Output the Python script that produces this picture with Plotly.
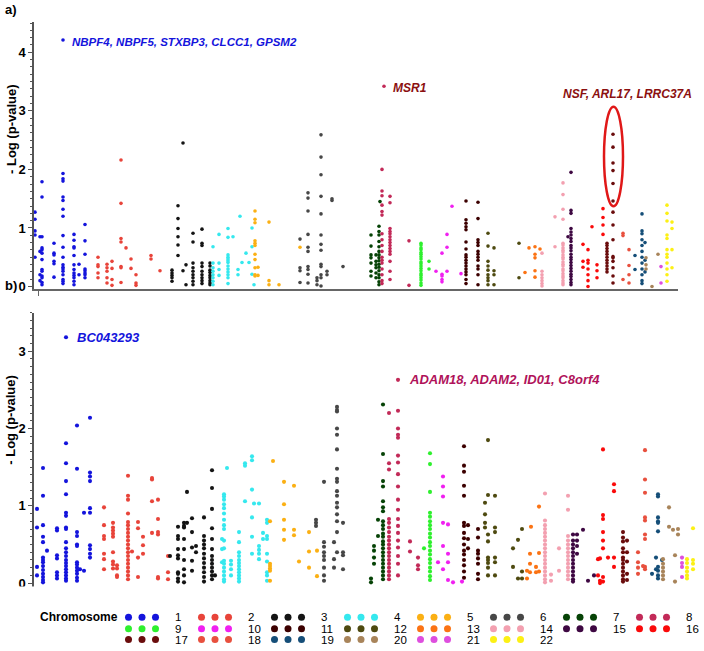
import plotly.graph_objects as go

W, H = 704, 651
FONT = "Liberation Sans, Arial, sans-serif"

CHROMS = list(range(1, 23))
COLORS = {
    1: "#1414dc", 2: "#e8443a", 3: "#141414", 4: "#35e8ee", 5: "#fbb014",
    6: "#474747", 7: "#064306", 8: "#c22a58", 9: "#2ef02e", 10: "#f020f0",
    11: "#3c0000", 12: "#4e4a10", 13: "#fb7314", 14: "#f3a0b0", 15: "#3e0842",
    16: "#fa0a0a", 17: "#6a0c0c", 18: "#e8503e", 19: "#154e78", 20: "#a8845a",
    21: "#de4ede", 22: "#fcf014",
}

# ---------------- panel a) : (position, [-log p values]) per chromosome ----------------
panel_a = {
    1: [(1, [1.27, 1.15, 0.95, 0.88, 0.50]),
        (6, [0.85, 0.60, 0.20, 0.10]),
        (8, [1.79, 1.53, 0.85, 0.66, 0.63, 0.57, 0.46, 0.29, 0.26, 0.18, 0.15, 0.07, 0.03]),
        (20, [0.74, 0.57, 0.54, 0.43, 0.39, 0.16]),
        (29, [4.21, 1.93, 1.84, 1.80, 1.53, 1.47, 1.32, 1.20, 0.87, 0.67, 0.50, 0.37, 0.33, 0.30, 0.26, 0.20, 0.12, 0.09, 0.05]),
        (40, [0.89, 0.79, 0.68, 0.66, 0.53, 0.37, 0.29, 0.23, 0.19, 0.15, 0.09, 0.03]),
        (45, [0.38, 0.20]),
        (51, [1.06, 0.78, 0.55, 0.30, 0.27, 0.23, 0.20, 0.15])],
    2: [(64, [0.50, 0.37, 0.34, 0.23, 0.15]),
        (73, [0.38, 0.32, 0.26, 0.15, 0.06]),
        (78, [0.43, 0.31, 0.12, 0.02]),
        (87, [2.16, 1.42, 0.82, 0.76, 0.34, 0.32, 0.07]),
        (92, [0.66]),
        (97, [0.47, 0.31]),
        (102, [0.20, 0.06, 0.02]),
        (117, [0.53, 0.47]),
        (126, [0.27])],
    3: [(138, [0.28, 0.23, 0.19, 0.15, 0.09]),
        (144, [1.38, 1.16, 0.99, 0.85, 0.71, 0.53]),
        (149, [2.45, 0.27]),
        (152, [0.37, 0.03]),
        (159, [0.91, 0.76, 0.40, 0.32, 0.26, 0.20, 0.15, 0.09, 0.03]),
        (168, [0.98, 0.74, 0.70, 0.40, 0.34, 0.26, 0.20, 0.15, 0.10, 0.05]),
        (176, [0.40, 0.35, 0.28, 0.24, 0.19, 0.15, 0.10, 0.06, 0.03])],
    4: [(179, [0.68, 0.40, 0.32, 0.26, 0.20, 0.15, 0.09, 0.03]),
        (185, [0.89, 0.40, 0.29, 0.19]),
        (194, [0.99, 0.84, 0.54, 0.50, 0.47, 0.44, 0.41, 0.35, 0.30, 0.25, 0.20, 0.15, 0.05]),
        (199, [0.85]),
        (204, [0.29, 0.20]),
        (206, [1.20]),
        (208, [0.41]),
        (212, [0.57]),
        (215, [0.41]),
        (218, [1.00, 0.68, 0.21]),
        (220, [0.03])],
    5: [(221, [1.29, 1.15, 1.09, 0.78, 0.74, 0.70, 0.55, 0.46, 0.32, 0.20, 0.18]),
        (224, [0.33, 0.19]),
        (235, [1.10, 0.10, 0.03]),
        (245, [0.03]),
        (266, [0.67])],
    6: [(266, [0.81, 0.32, 0.27, 0.07]),
        (274, [1.60, 1.51, 1.29, 0.89, 0.67, 0.60, 0.34, 0.29, 0.21, 0.06]),
        (283, [0.15, 0.10, 0.03]),
        (287, [2.59, 2.21, 1.91, 1.54, 1.24, 0.88, 0.72, 0.62, 0.38, 0.34, 0.20, 0.15, 0.01]),
        (293, [0.26, 0.20]),
        (298, [1.50, 1.47]),
        (309, [0.34])],
    7: [(337, [0.88, 0.69, 0.54, 0.49, 0.40, 0.26, 0.18]),
        (342, [0.54, 0.43, 0.37, 0.32, 0.23, 0.15]),
        (345, [1.03, 0.94, 0.88, 0.77, 0.68, 0.60, 0.54, 0.49, 0.44, 0.38, 0.33, 0.27, 0.20, 0.15, 0.08, 0.03]),
        (346, [1.45])],
    8: [(348, [2.00, 1.63, 1.55, 1.39, 1.28, 1.22, 0.90, 0.80, 0.70, 0.60, 0.50, 0.45, 0.40, 0.30, 0.20, 0.10, 0.05]),
        (350, [3.42]),
        (356, [1.54, 1.43, 0.99, 0.94, 0.90, 0.85, 0.80, 0.75, 0.70, 0.65, 0.60, 0.55, 0.43, 0.26, 0.12]),
        (375, [0.78, 0.02])],
    9: [(387, [0.74, 0.71, 0.66, 0.63, 0.58, 0.55, 0.51, 0.47, 0.42, 0.39, 0.35, 0.31, 0.27, 0.22, 0.19, 0.15, 0.11, 0.06, 0.02]),
        (395, [0.43, 0.30])],
    10: [(402, [0.26]),
         (408, [0.57, 0.21, 0.18, 0.12, 0.08]),
         (413, [0.89, 0.67, 0.26]),
         (418, [1.37]),
         (427, [0.22])],
    11: [(432, [1.46, 1.14, 1.08, 1.02, 0.97, 0.76, 0.64, 0.54, 0.50, 0.45, 0.40, 0.35, 0.30, 0.25, 0.20, 0.12, 0.05]),
         (444, [1.44, 1.16, 0.80, 0.75, 0.70, 0.60, 0.55, 0.50, 0.45, 0.35, 0.30, 0.20, 0.03])],
    12: [(454, [0.91, 0.69, 0.43, 0.35, 0.28, 0.20, 0.15, 0.10, 0.03]),
         (460, [0.66, 0.27, 0.20, 0.03]),
         (485, [0.74, 0.15])],
    13: [(491, [0.24]),
         (495, [0.66]),
         (501, [0.68, 0.55, 0.49, 0.27, 0.16]),
         (506, [0.64])],
    14: [(508, [0.57, 0.26, 0.20, 0.15, 0.10, 0.05, 0.01]),
         (521, [1.19, 0.68]),
         (529, [1.77, 1.57, 1.32, 1.15, 0.74, 0.71, 0.66, 0.62, 0.59, 0.54, 0.50, 0.47, 0.42, 0.38, 0.35, 0.30, 0.27, 0.22, 0.18, 0.15, 0.10, 0.06, 0.03])],
    15: [(534, [0.85]),
         (537, [1.95, 1.30, 1.25, 0.99, 0.93, 0.88, 0.82, 0.77, 0.70, 0.66, 0.61, 0.55, 0.50, 0.46, 0.41, 0.36, 0.31, 0.26, 0.21, 0.17, 0.12, 0.07, 0.03])],
    16: [(549, [0.72, 0.43, 0.33]),
         (554, [0.63, 0.45, 0.40, 0.30, 0.20, 0.10, 0.00]),
         (558, [1.02]),
         (563, [0.37, 0.27, 0.15]),
         (569, [1.33, 1.18, 1.05, 0.89])],
    17: [(573, [0.74, 0.70, 0.65, 0.60, 0.55, 0.50, 0.45, 0.40, 0.35, 0.30, 0.25]),
         (579, [2.60, 2.38, 2.11, 1.98, 1.76, 1.46, 1.27, 1.05, 0.80, 0.51, 0.49, 0.43, 0.32, 0.18, 0.06])],
    18: [(589, [0.91, 0.87, 0.12]),
         (595, [0.63, 0.36, 0.20, 0.06])],
    19: [(601, [0.53, 0.29]),
         (608, [1.24, 0.95, 0.90, 0.80, 0.70, 0.60, 0.50, 0.40, 0.30, 0.20, 0.10, 0.05]),
         (611, [0.75, 0.45, 0.25])],
    20: [(612, [0.49, 0.37, 0.30]),
         (618, [0.00]),
         (624, [0.55])],
    21: [(627, [0.34, 0.06])],
    22: [(633, [1.39, 1.25, 1.12, 0.88, 0.82, 0.63, 0.55, 0.50, 0.40, 0.30, 0.20, 0.09]),
         (638, [1.10, 0.99, 0.63, 0.32])],
}

# ---------------- panel b) ----------------
panel_b = {
    1: [(3, [0.96, 0.72, 0.21, 0.10]),
        (9, [1.49, 1.13, 0.75, 0.60, 0.53, 0.33, 0.30, 0.27, 0.22, 0.17, 0.12, 0.08, 0.04, 0.01]),
        (13, [0.42]),
        (23, [0.71, 0.68, 0.36, 0.32, 0.14, 0.10, 0.06]),
        (32, [3.18, 1.81, 1.55, 1.32, 1.15, 0.91, 0.87, 0.72, 0.70, 0.53, 0.45, 0.40, 0.35, 0.30, 0.26, 0.22, 0.18, 0.14, 0.10, 0.06, 0.03]),
        (43, [2.04, 1.48, 0.66, 0.61, 0.50, 0.48, 0.27, 0.24, 0.20, 0.16, 0.12, 0.07, 0.03]),
        (46, [0.18]),
        (50, [0.91, 0.16]),
        (56, [2.14, 1.43, 1.38, 1.32, 0.97, 0.91, 0.49, 0.44, 0.38, 0.33])],
    2: [(70, [0.98, 0.75, 0.61, 0.57, 0.38, 0.31, 0.18]),
        (79, [0.78, 0.72, 0.68, 0.64, 0.60, 0.40, 0.28, 0.24, 0.19]),
        (83, [0.23, 0.19, 0.10, 0.08]),
        (94, [1.39, 1.13, 1.08, 0.90, 0.79, 0.75, 0.70, 0.65, 0.60, 0.55, 0.50, 0.45, 0.40, 0.35, 0.30, 0.25, 0.20, 0.15, 0.10, 0.05]),
        (98, [0.41]),
        (104, [0.79, 0.71, 0.33, 0.08]),
        (109, [0.60, 0.49, 0.38]),
        (118, [1.36, 1.34, 1.06, 0.65]),
        (124, [1.08, 0.83, 0.66, 0.63, 0.08, 0.06]),
        (134, [0.35, 0.14, 0.05])],
    3: [(136, [0.35]),
        (144, [0.73, 0.61, 0.57, 0.44, 0.36, 0.32, 0.14, 0.12, 0.06, 0.02]),
        (150, [0.78, 0.74, 0.72, 0.57, 0.44, 0.30, 0.18, 0.10, 0.01]),
        (153, [1.18, 0.78]),
        (158, [0.84, 0.66, 0.46, 0.29, 0.16]),
        (162, [0.48, 0.40]),
        (170, [0.85, 0.61, 0.55, 0.50, 0.45, 0.38, 0.32, 0.26, 0.20, 0.14, 0.08, 0.02]),
        (178, [1.46, 1.23, 0.96, 0.71, 0.57, 0.44, 0.35, 0.30, 0.25, 0.20, 0.15, 0.10, 0.05]),
        (181, [0.10])],
    4: [(188, [0.57, 0.44, 0.27]),
        (190, [1.15, 1.12, 1.08, 1.02, 0.97, 0.90, 0.82, 0.75, 0.70, 0.55, 0.45, 0.29, 0.25, 0.20, 0.15, 0.10, 0.05, 0.02]),
        (193, [1.49]),
        (197, [0.29, 0.24, 0.18, 0.10]),
        (205, [0.66, 0.53, 0.40, 0.35, 0.30, 0.26, 0.22, 0.18, 0.14, 0.10, 0.06, 0.02]),
        (211, [1.55, 1.52, 1.06]),
        (218, [1.64, 1.59, 1.21, 0.85, 0.60, 0.38]),
        (220, [1.03]),
        (225, [1.03, 0.48, 0.43, 0.38, 0.31]),
        (229, [0.65, 0.57]),
        (233, [0.82, 0.78, 0.61, 0.57, 0.38, 0.28, 0.14, 0.10, 0.03])],
    5: [(236, [0.80, 0.25, 0.22, 0.19, 0.16, 0.03]),
        (239, [1.58]),
        (250, [1.31, 1.02, 0.82, 0.69, 0.56]),
        (260, [1.26, 0.69, 0.62]),
        (265, [0.28]),
        (275, [0.66, 0.41, 0.20]),
        (283, [0.42, 0.09])],
    6: [(282, [0.82, 0.78, 0.74]),
        (290, [1.31, 0.53, 0.47, 0.40, 0.35, 0.30, 0.20, 0.10, 0.03]),
        (300, [0.53, 0.31, 0.20]),
        (303, [2.28, 2.24, 2.22, 2.00, 1.92, 1.73, 1.48, 1.35, 1.31, 1.19, 1.13, 1.04, 0.98, 0.89, 0.80, 0.66, 0.40]),
        (309, [0.78, 0.40, 0.36, 0.18])],
    7: [(337, [0.06, 0.01]),
        (340, [0.48, 0.42, 0.33, 0.25]),
        (344, [0.82, 0.61]),
        (349, [2.31, 1.67, 1.32, 1.25, 1.06, 0.98, 0.93, 0.80, 0.75, 0.70, 0.64, 0.60, 0.54, 0.50, 0.45, 0.40, 0.35, 0.30, 0.25, 0.20, 0.15, 0.10, 0.05])],
    8: [(355, [2.20, 1.55, 1.47, 0.83, 0.78, 0.72, 0.66, 0.60, 0.55, 0.50, 0.45, 0.40, 0.35, 0.30, 0.25, 0.20, 0.15, 0.10, 0.05]),
        (364, [2.63, 2.23, 2.00, 1.92, 1.88, 1.65, 1.56, 1.41, 1.25, 1.08, 0.95, 0.83, 0.74, 0.65, 0.55, 0.46, 0.35, 0.25, 0.10]),
        (376, [0.54, 0.41]),
        (384, [0.33, 0.23, 0.18])],
    9: [(390, [0.45]),
        (396, [1.68, 1.54, 1.18, 0.91, 0.86, 0.80, 0.75, 0.70, 0.64, 0.59, 0.53, 0.48, 0.42, 0.37, 0.31, 0.26, 0.20, 0.15, 0.09, 0.04])],
    10: [(404, [0.27]),
         (409, [1.38, 1.25, 1.12, 0.78, 0.48, 0.18]),
         (414, [0.76, 0.38, 0.27, 0.04]),
         (419, [0.01]),
         (428, [0.02])],
    11: [(430, [1.77, 1.52, 1.44, 1.26, 1.13, 0.78, 0.74, 0.65, 0.58, 0.50, 0.42, 0.37, 0.30, 0.23, 0.15, 0.07]),
         (434, [0.75, 0.57, 0.45]),
         (444, [0.70, 0.59, 0.42, 0.38, 0.32, 0.25, 0.12, 0.05])],
    12: [(451, [1.04, 0.89, 0.78, 0.72]),
         (454, [1.85, 1.14, 0.63, 0.54, 0.33, 0.30, 0.26, 0.20, 0.10]),
         (461, [1.13, 0.72, 0.66, 0.33, 0.27, 0.10]),
         (479, [0.45, 0.21]),
         (484, [0.56, 0.06]),
         (488, [0.70, 0.15, 0.06])],
    13: [(493, [0.16, 0.06]),
         (496, [0.38, 0.25, 0.14]),
         (497, [0.73]),
         (502, [0.21, 0.14]),
         (505, [0.99, 0.39, 0.15])],
    14: [(511, [1.16, 0.81, 0.75, 0.70, 0.65, 0.60, 0.55, 0.50, 0.45, 0.40, 0.35, 0.30, 0.25, 0.20, 0.15, 0.10, 0.05, 0.01]),
         (517, [0.11, 0.03]),
         (525, [0.45, 0.16]),
         (534, [1.13, 0.95, 0.61, 0.55, 0.50, 0.45, 0.40, 0.35, 0.30, 0.25, 0.20, 0.15, 0.10, 0.05])],
    15: [(539, [0.63, 0.55, 0.50, 0.45, 0.40, 0.35, 0.30, 0.25, 0.20, 0.15, 0.10, 0.05, 0.02]),
         (543, [0.63, 0.55, 0.48, 0.38]),
         (549, [0.69]),
         (554, [0.03]),
         (560, [0.10])],
    16: [(564, [0.31, 0.10]),
         (566, [0.32, 0.03, 0.00]),
         (569, [1.73, 0.88, 0.83, 0.66, 0.55, 0.45, 0.08, 0.02]),
         (574, [0.33]),
         (580, [1.28, 1.19, 0.33, 0.21])],
    17: [(589, [0.66, 0.59, 0.54, 0.45, 0.40, 0.33, 0.30, 0.25, 0.20, 0.15, 0.10, 0.05, 0.02]),
         (593, [0.55, 0.40, 0.28, 0.12, 0.04])],
    18: [(604, [0.40, 0.27, 0.20, 0.12]),
         (609, [0.22]),
         (611, [1.72, 1.34, 1.17, 0.85, 0.81, 0.63, 0.57, 0.21, 0.18])],
    19: [(618, [0.12]),
         (622, [0.33, 0.18]),
         (624, [1.15, 1.12, 0.85, 0.80, 0.78, 0.67, 0.21, 0.16, 0.10, 0.06]),
         (628, [0.30])],
    20: [(629, [0.31, 0.25, 0.20, 0.15, 0.10, 0.05]),
         (635, [0.98, 0.73]),
         (639, [0.69]),
         (641, [0.36, 0.02]),
         (644, [0.70, 0.63])],
    21: [(648, [0.33, 0.26, 0.21, 0.08])],
    22: [(653, [0.31, 0.26, 0.20, 0.15, 0.10, 0.06]),
         (659, [0.71, 0.30, 0.25, 0.18])],
}

# gene labels: (chromosome, position, value, text, colour)
labels_a = [
    (1, 29, 4.21, "NBPF4, NBPF5, STXBP3, CLCC1, GPSM2", "#1414dc"),
    (8, 350, 3.42, "MSR1", "#8b1010"),
]
labels_b = [
    (1, 32, 3.18, "BC043293", "#1414dc"),
    (8, 364, 2.63, "ADAM18, ADAM2, ID01, C8orf4", "#b0125a"),
]
highlight_text = "NSF, ARL17, LRRC37A"
highlight_chrom = 17
highlight_pos = 579

LEGEND_ROWS = [list(range(1, 9)), list(range(9, 17)), list(range(17, 23))]

fig = go.Figure()


def add_panel(data, xa, ya, msize):
    for c in CHROMS:
        xs, ys = [], []
        for pos, vals in data.get(c, []):
            xs += [pos] * len(vals)
            ys += vals
        fig.add_trace(go.Scatter(
            x=xs, y=ys, mode="markers", xaxis=xa, yaxis=ya,
            marker=dict(size=msize, color=COLORS[c], line=dict(width=0)),
            showlegend=False, hoverinfo="skip", cliponaxis=False))


add_panel(panel_a, "x", "y", 3.6)
add_panel(panel_b, "x2", "y2", 4.1)

# legend drawn on its own axis (pixel-like units)
LEG_X0, LEG_DX, LEG_DOT = 128.5, 73.0, 13.5
LEG_Y = [29, 17.5, 6.5]
for r, row in enumerate(LEGEND_ROWS):
    for ci, c in enumerate(row):
        x0 = LEG_X0 + ci * LEG_DX
        fig.add_trace(go.Scatter(
            x=[x0 + k * LEG_DOT for k in range(3)], y=[LEG_Y[r]] * 3,
            mode="markers", xaxis="x3", yaxis="y3",
            marker=dict(size=7, color=COLORS[c], line=dict(width=0)),
            showlegend=False, hoverinfo="skip"))

annotations = []
for c, pos, val, text, col in labels_a:
    annotations.append(dict(x=pos + 7, y=val, xref="x", yref="y", text=f"<b><i>{text}</i></b>",
                            showarrow=False, xanchor="left", yanchor="middle", yshift=-2,
                            font=dict(family=FONT, size=11.5 if c == 1 else 12, color=col)))
for c, pos, val, text, col in labels_b:
    annotations.append(dict(x=pos + 9, y=val, xref="x2", yref="y2", text=f"<b><i>{text}</i></b>",
                            showarrow=False, xanchor="left", yanchor="middle",
                            font=dict(family=FONT, size=13, color=col)))
annotations.append(dict(x=highlight_pos + 14, y=3.28, xref="x", yref="y",
                        text=f"<b><i>{highlight_text}</i></b>", showarrow=False,
                        xanchor="center", yanchor="middle",
                        font=dict(family=FONT, size=12, color="#8b1010")))
# panel letters and axis titles
annotations += [
    dict(x=3 / W, y=1 - 10 / H, xref="paper", yref="paper", text="<b>a)</b>", showarrow=False,
         xanchor="left", yanchor="middle", font=dict(family=FONT, size=13, color="black")),
    dict(x=3 / W, y=1 - 288 / H, xref="paper", yref="paper", text="<b>b)</b>", showarrow=False,
         xanchor="left", yanchor="middle", font=dict(family=FONT, size=13, color="black")),
    dict(x=11 / W, y=1 - 130 / H, xref="paper", yref="paper", text="<b>- Log (p-value)</b>",
         textangle=-90, showarrow=False, xanchor="center", yanchor="middle",
         font=dict(family=FONT, size=13, color="black")),
    dict(x=11 / W, y=1 - 423 / H, xref="paper", yref="paper", text="<b>- Log (p-value)</b>",
         textangle=-90, showarrow=False, xanchor="center", yanchor="middle",
         font=dict(family=FONT, size=13, color="black")),
    dict(x=38, y=LEG_Y[0], xref="x3", yref="y3", text="<b>Chromosome</b>", showarrow=False,
         xanchor="left", yanchor="middle", font=dict(family=FONT, size=12, color="black")),
]
for r, row in enumerate(LEGEND_ROWS):
    for ci, c in enumerate(row):
        annotations.append(dict(x=LEG_X0 + ci * LEG_DX + 44, y=LEG_Y[r], xref="x3", yref="y3",
                                text=str(c), showarrow=False, xanchor="left", yanchor="middle",
                                font=dict(family=FONT, size=11.5, color="black")))

shapes = [dict(type="circle", xref="x", yref="y", x0=highlight_pos - 9, x1=highlight_pos + 10,
               y0=1.37, y1=3.07, line=dict(color="#e01818", width=2.5))]

yax_common = dict(showline=True, linecolor="#555", linewidth=1.5, ticks="outside", ticklen=4,
                  tickcolor="#555", showgrid=False, zeroline=False,
                  tickfont=dict(family=FONT, size=13, color="black", weight="bold"))
xax_common = dict(showline=True, linecolor="#666", linewidth=2, ticks="outside", ticklen=5,
                  tickcolor="#666", tickvals=[4], showticklabels=False, showgrid=False,
                  zeroline=False)

fig.update_layout(
    width=W, height=H, margin=dict(l=0, r=0, t=0, b=0),
    paper_bgcolor="white", plot_bgcolor="white",
    xaxis=dict(domain=[34 / W, 678 / W], range=[0, 644], anchor="y", **xax_common),
    yaxis=dict(domain=[1 - 291.7 / H, 1 - 22 / H], range=[-0.05, 4.52], anchor="x",
               tickvals=[0, 1, 2, 3, 4],
               minor=dict(dtick=0.125, tick0=0, ticks="outside", ticklen=2, tickcolor="#555"),
               **yax_common),
    xaxis2=dict(domain=[34 / W, 701 / W], range=[0, 667], anchor="y2", **xax_common),
    yaxis2=dict(domain=[1 - 592.7 / H, 1 - 315 / H], range=[-0.065, 3.5], anchor="x2",
                tickvals=[0, 1, 2, 3],
                minor=dict(dtick=0.1, tick0=0, ticks="outside", ticklen=2, tickcolor="#555"),
                **yax_common),
    xaxis3=dict(domain=[0, 1], range=[0, W], anchor="y3", visible=False),
    yaxis3=dict(domain=[0, 60 / H], range=[0, 60], anchor="x3", visible=False),
    annotations=annotations, shapes=shapes,
)

fig.write_html("out.html", config={"displayModeBar": False},
               post_script="document.body.style.margin='0';")
